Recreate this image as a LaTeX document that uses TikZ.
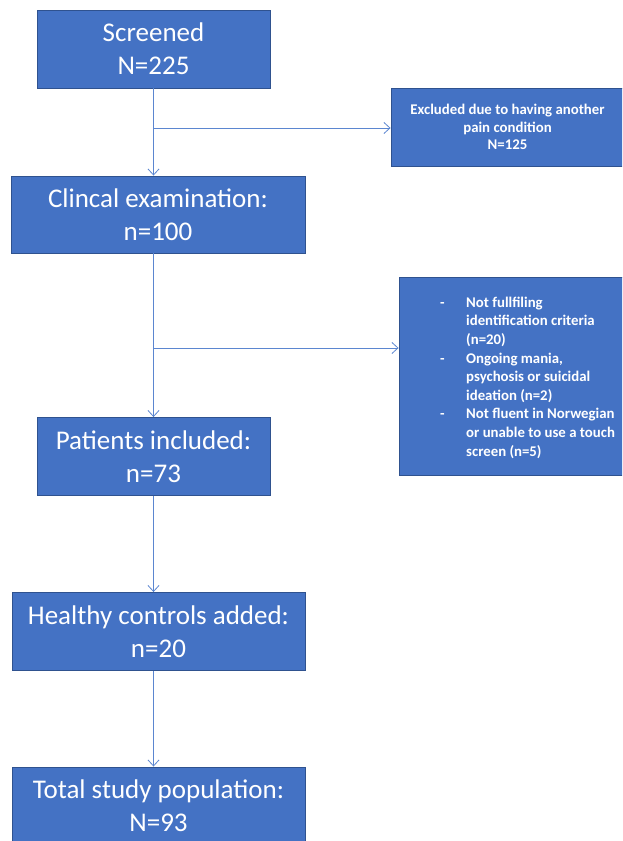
\documentclass[tikz,border=0pt]{standalone}
\usepackage{fontspec}
\setmainfont{Carlito}
\usetikzlibrary{arrows.meta}
\definecolor{boxfill}{HTML}{4472C4}
\definecolor{boxline}{HTML}{2F528F}
\definecolor{conn}{HTML}{5B86D0}
\tikzset{
  mainbox/.style={draw=boxline, fill=boxfill, line width=0.9pt, text=white, align=center,
    font=\fontsize{27}{33}\selectfont, inner sep=0pt},
  sidebox/.style={draw=boxline, fill=boxfill, line width=0.9pt, text=white, inner sep=0pt},
  conline/.style={draw=conn, line width=0.8pt, -{Straight Barb[length=6pt,width=11pt,line width=0.8pt]}},
}
\begin{document}
\begin{tikzpicture}[x=1pt,y=-1pt]
\useasboundingbox (0,0) rectangle (622,841);
\clip (0,0) rectangle (622,841);
% main boxes
\node[mainbox, minimum width=233pt, minimum height=78pt] (scr) at (153.5,49) {Screened\\N=225};
\node[mainbox, minimum width=294pt, minimum height=77pt] (cli) at (158,214.5) {Clincal examination:\\n=100};
\node[mainbox, minimum width=233pt, minimum height=78pt] (pat) at (153.5,456.5) {Patients included:\\n=73};
\node[mainbox, minimum width=293pt, minimum height=78pt] (hea) at (158.5,631.5) {Healthy controls added:\\n=20};
\node[mainbox, minimum width=293pt, minimum height=78pt] (tot) at (158.5,806) {Total study population:\\N=93};
% side boxes
\node[sidebox, minimum width=233pt, minimum height=78pt, align=center,
  font=\bfseries\fontsize{14.8}{17.5}\selectfont] (ex1) at (507.5,127)
  {Excluded due to having another\\pain condition\\N=125};
\node[sidebox, minimum width=230pt, minimum height=198pt] (ex2) at (514,376) {};
\node[anchor=north west, inner sep=0pt, text=white, font=\bfseries\fontsize{14.8}{18.6}\selectfont] (ex2t) at (440,294) {%
\begin{tabular}{@{}l@{}l@{}}
\makebox[26pt][l]{-} & Not fullfiling\\
 & identification criteria\\
 & (n=20)\\
\makebox[26pt][l]{-} & Ongoing mania,\\
 & psychosis or suicidal\\
 & ideation (n=2)\\
\makebox[26pt][l]{-} & Not fluent in Norwegian\\
 & or unable to use a touch\\
 & screen (n=5)
\end{tabular}};
% connectors
\coordinate (b1) at (scr.south |- 0,128);
\coordinate (b2) at (cli.south -| scr.south);
\coordinate (b3) at (scr.south |- 0,348);
\draw[conline] (scr.south) -- (scr.south |- cli.north);
\draw[conline] (b1) -- (b1 -| ex1.west);
\draw[conline] (b2) -- (b2 |- pat.north);
\draw[conline] (b3) -- (b3 -| ex2.west);
\draw[conline] (pat.south) -- (hea.north -| pat.south);
\draw[conline] (hea.south -| pat.south) -- (tot.north -| pat.south);
\end{tikzpicture}
\end{document}
